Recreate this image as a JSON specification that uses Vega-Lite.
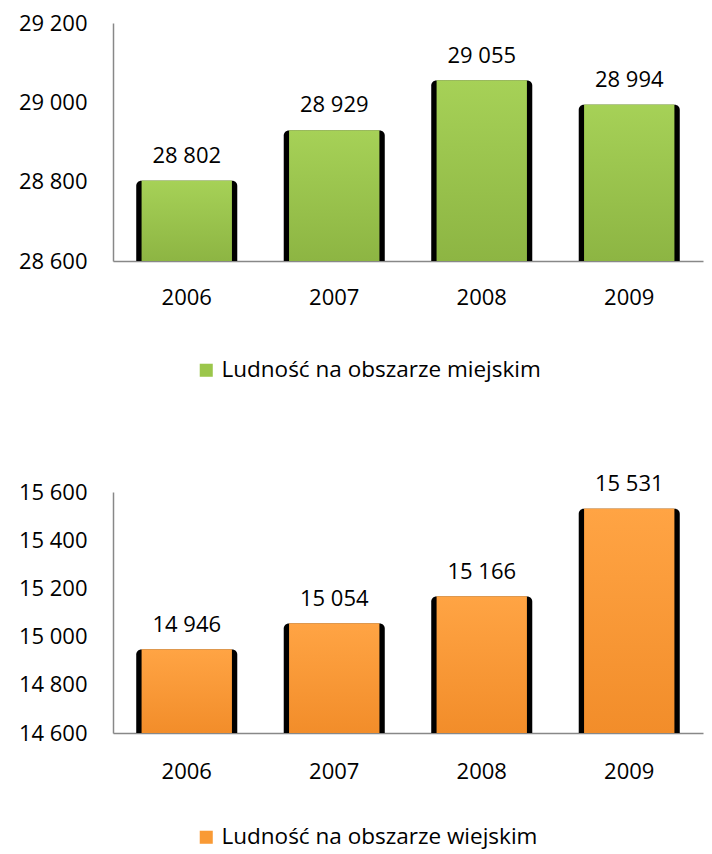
{
  "$schema": "https://vega.github.io/schema/vega-lite/v6.json",
  "padding": {"left": 18, "top": 12, "right": 4, "bottom": 5},
  "spacing": 231,
  "bounds": "flush",
  "config": {
    "locale": {"number": {"decimal": ",", "thousands": " ", "grouping": [3], "currency": ["", ""]}},
    "font": "Open Sans",
    "view": {"stroke": null},
    "axis": {"labelFont": "Open Sans", "labelFontSize": 22, "labelColor": "#000000", "domainColor": "#888888", "domainWidth": 1.5, "ticks": false, "grid": false, "title": null},
    "legend": {"labelFont": "Open Sans", "labelFontSize": 22.5, "labelColor": "#000000", "labelLimit": 0, "labelOffset": 4, "symbolType": "square", "symbolSize": 170, "title": null, "orient": "none"}
  },
  "vconcat": [
    {
      "width": 590,
      "height": 238,
      "data": {"values": [
        {"rok": "2006", "wartosc": 28802, "seria": "Ludność na obszarze miejskim"},
        {"rok": "2007", "wartosc": 28929, "seria": "Ludność na obszarze miejskim"},
        {"rok": "2008", "wartosc": 29055, "seria": "Ludność na obszarze miejskim"},
        {"rok": "2009", "wartosc": 28994, "seria": "Ludność na obszarze miejskim"}
      ]},
      "encoding": {
        "x": {"field": "rok", "type": "nominal", "scale": {"paddingInner": 0, "paddingOuter": 0}, "axis": {"labelAngle": 0, "labelPadding": 26}},
        "y": {"field": "wartosc", "type": "quantitative", "scale": {"domain": [28600, 29200], "zero": false, "nice": false}, "axis": {"values": [28600, 28800, 29000, 29200], "format": ",d", "labelPadding": 26}}
      },
      "layer": [
        {"mark": {"type": "bar", "color": "#000000", "width": {"band": 0.685}, "cornerRadiusTopLeft": 5, "cornerRadiusTopRight": 5}, "encoding": {"y2": {"datum": 28600}}},
        {"mark": {"type": "bar", "width": {"band": 0.61}}, "encoding": {"y2": {"datum": 28600}, "color": {"field": "seria", "type": "nominal", "scale": {"range": ["#9BC64B"]}, "legend": {"legendX": 82, "legendY": 336}}}},
        {"mark": {"type": "bar", "width": {"band": 0.61}, "color": {"gradient": "linear", "x1": 0, "y1": 0, "x2": 0, "y2": 1, "stops": [{"offset": 0, "color": "#A6D157"}, {"offset": 1, "color": "#8DB543"}]}}, "encoding": {"y2": {"datum": 28600}}},
        {"mark": {"type": "text", "baseline": "bottom", "dy": -13, "fontSize": 22, "font": "Open Sans", "color": "#000000"}, "encoding": {"text": {"field": "wartosc", "type": "quantitative", "format": ",d"}}}
      ]
    },
    {
      "width": 590,
      "height": 241,
      "data": {"values": [
        {"rok": "2006", "wartosc": 14946, "seria": "Ludność na obszarze wiejskim"},
        {"rok": "2007", "wartosc": 15054, "seria": "Ludność na obszarze wiejskim"},
        {"rok": "2008", "wartosc": 15166, "seria": "Ludność na obszarze wiejskim"},
        {"rok": "2009", "wartosc": 15531, "seria": "Ludność na obszarze wiejskim"}
      ]},
      "encoding": {
        "x": {"field": "rok", "type": "nominal", "scale": {"paddingInner": 0, "paddingOuter": 0}, "axis": {"labelAngle": 0, "labelPadding": 28}},
        "y": {"field": "wartosc", "type": "quantitative", "scale": {"domain": [14600, 15600], "zero": false, "nice": false}, "axis": {"values": [14600, 14800, 15000, 15200, 15400, 15600], "format": ",d", "labelPadding": 26}}
      },
      "layer": [
        {"mark": {"type": "bar", "color": "#000000", "width": {"band": 0.685}, "cornerRadiusTopLeft": 5, "cornerRadiusTopRight": 5}, "encoding": {"y2": {"datum": 14600}}},
        {"mark": {"type": "bar", "width": {"band": 0.61}}, "encoding": {"y2": {"datum": 14600}, "color": {"field": "seria", "type": "nominal", "scale": {"range": ["#F99A35"]}, "legend": {"legendX": 82, "legendY": 334}}}},
        {"mark": {"type": "bar", "width": {"band": 0.61}, "color": {"gradient": "linear", "x1": 0, "y1": 0, "x2": 0, "y2": 1, "stops": [{"offset": 0, "color": "#FFA444"}, {"offset": 1, "color": "#F28D2A"}]}}, "encoding": {"y2": {"datum": 14600}}},
        {"mark": {"type": "text", "baseline": "bottom", "dy": -13, "fontSize": 22, "font": "Open Sans", "color": "#000000"}, "encoding": {"text": {"field": "wartosc", "type": "quantitative", "format": ",d"}}}
      ]
    }
  ],
  "resolve": {"scale": {"color": "independent"}}
}
